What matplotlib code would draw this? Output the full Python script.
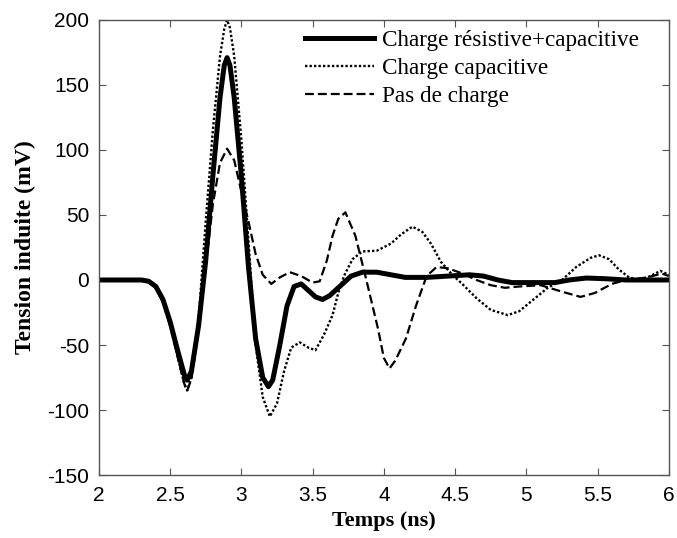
import numpy as np
import matplotlib.pyplot as plt

plt.rcParams['axes.unicode_minus'] = False

# Charge resistive + capacitive
t_rc = [2.0, 2.3, 2.35, 2.4, 2.45, 2.5, 2.55, 2.6, 2.62, 2.65, 2.7, 2.75, 2.8, 2.85,
        2.88, 2.9, 2.92, 2.95, 3.0, 3.05, 3.1, 3.15, 3.19, 3.22, 3.27, 3.32, 3.37,
        3.42, 3.47, 3.52, 3.57, 3.62, 3.7, 3.77, 3.85, 3.95, 4.05, 4.15, 4.3, 4.45,
        4.6, 4.7, 4.8, 4.9, 5.05, 5.2, 5.3, 5.42, 5.55, 5.7, 6.0]
v_rc = [0, 0, -1, -5, -15, -32, -53, -73, -77, -70, -35, 15, 80, 140,
        165, 171, 165, 140, 80, 10, -45, -75, -82, -77, -50, -20, -5,
        -3, -8, -13, -15, -12, -4, 3, 6, 6, 4, 2, 2, 3,
        4, 3, 0, -2, -2, -2, 0, 1.5, 1, 0, 0]

# Charge capacitive
t_c = [2.0, 2.3, 2.35, 2.4, 2.45, 2.5, 2.55, 2.6, 2.62, 2.65, 2.7, 2.75, 2.8, 2.85,
       2.88, 2.9, 2.92, 2.95, 3.0, 3.05, 3.1, 3.15, 3.2, 3.25, 3.3, 3.35, 3.41,
       3.47, 3.52, 3.58, 3.64, 3.68, 3.72, 3.78, 3.85, 3.95, 4.05, 4.12, 4.2, 4.27,
       4.33, 4.4, 4.48, 4.55, 4.65, 4.75, 4.87, 4.95, 5.05, 5.15, 5.25, 5.35, 5.45,
       5.51, 5.58, 5.65, 5.72, 5.8, 5.87, 5.94, 6.0]
v_c = [0, 0, -1, -6, -17, -35, -58, -80, -85, -75, -30, 45, 115, 172,
       193, 200, 194, 172, 108, 30, -50, -90, -105, -95, -70, -52, -48,
       -52, -54, -42, -27, -10, 3, 16, 22, 22.5, 28, 35, 41, 37,
       28, 14, 4, -3, -14, -23, -27, -24, -15, -6, 0, 10, 17,
       19, 16, 8, 2, 0, 3, 7, 4]

# Pas de charge
t_n = [2.0, 2.3, 2.35, 2.4, 2.45, 2.5, 2.55, 2.6, 2.62, 2.65, 2.7, 2.75, 2.8, 2.85,
       2.9, 2.95, 3.0, 3.05, 3.1, 3.15, 3.21, 3.27, 3.34, 3.42, 3.5, 3.55, 3.6,
       3.64, 3.68, 3.73, 3.8, 3.875, 3.96, 4.0, 4.04, 4.08, 4.155, 4.225, 4.3, 4.37, 4.45,
       4.55, 4.65, 4.75, 4.85, 4.95, 5.1, 5.25, 5.38, 5.48, 5.6, 5.7, 5.85, 5.95, 6.0]
v_n = [0, 0, -1, -6, -17, -35, -58, -80, -85, -76, -38, 10, 58, 90,
       101, 92, 68, 45, 20, 4, -3, 2, 6, 3, -2, -1, 15,
       34, 47, 52, 34, 1, -38, -60, -68, -62, -45, -20, 3, 10, 9,
       5, 0, -4, -6, -5, -4, -9, -13, -10, -3, 0, 2, 5, 3]

fig = plt.figure(figsize=(6.77, 5.38), dpi=100)
ax = fig.add_axes([0.146, 0.117, 0.842, 0.846])

ax.plot(t_rc, v_rc, color='black', lw=3.6, label='Charge résistive+capacitive')
ax.plot(t_c, v_c, color='black', lw=1.7, linestyle=(0, (1, 0.9)), label='Charge capacitive')
ax.plot(t_n, v_n, color='black', lw=1.6, linestyle=(0, (4, 1.8)), label='Pas de charge')

ax.set_xlim(2, 6)
ax.set_ylim(-150, 200)
ax.set_xticks([2, 2.5, 3, 3.5, 4, 4.5, 5, 5.5, 6])
ax.set_xticklabels(['2', '2.5', '3', '3.5', '4', '4.5', '5', '5.5', '6'])
ax.set_yticks(np.arange(-150, 201, 50))

ax.tick_params(direction='in', top=True, right=True, length=5, width=0.8,
               color='#555555', labelsize=15)
ax.tick_params(axis='x', pad=8)
ax.tick_params(axis='y', pad=7)
for lab in ax.get_xticklabels() + ax.get_yticklabels():
    lab.set_family('Liberation Sans')
for s in ax.spines.values():
    s.set_color('#555555')
    s.set_linewidth(1.0)

ax.set_xlabel('Temps (ns)', family='Liberation Serif', fontweight='bold', fontsize=16, labelpad=4)
ax.set_ylabel('Tension induite (mV)', family='Liberation Serif', fontweight='bold', fontsize=17, labelpad=8)

leg = ax.legend(loc='upper left', frameon=False, prop={'family': 'Liberation Serif', 'size': 16.7},
                handlelength=3.0, handletextpad=0.35, labelspacing=0.3,
                borderaxespad=0.0, bbox_to_anchor=(0.345, 0.999))

fig.savefig('out.png', dpi=100)
